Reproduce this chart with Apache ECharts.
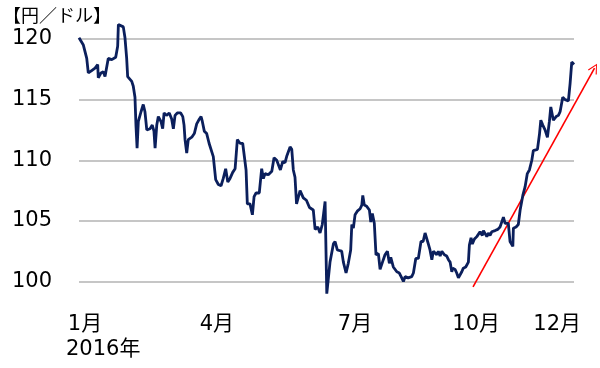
<!DOCTYPE html>
<html>
<head>
<meta charset="utf-8">
<script src="https://cdn.jsdelivr.net/npm/echarts@6/dist/echarts.min.js"></script>
<style>html,body{margin:0;padding:0;background:#fff}#c{width:600px;height:368px}</style>
</head>
<body>
<div id="c"></div>
<script>
// x: position along the year in day-of-year units, y: 円/ドル
const days = [4.0,7.1,9.5,10.6,13.0,15.4,17.3,17.7,19.6,21.3,22.5,24.8,27.3,30.1,31.5,32.0,33.2,35.5,36.7,37.9,38.6,39.8,41.5,42.6,43.8,44.5,45.3,46.2,48.1,49.7,50.9,52.2,54.5,56.1,57.3,58.1,59.3,60.4,62.3,63.5,64.5,66.2,68.2,69.9,71.1,72.3,73.9,76.3,77.8,78.7,79.4,80.6,81.7,84.2,86.0,87.7,89.6,90.8,91.7,93.1,94.8,96.5,97.9,99.5,101.2,103.1,105.0,106.6,108.3,109.8,111.4,113.3,115.0,116.6,118.5,120.4,121.6,122.8,123.7,125.6,127.3,128.5,129.9,132.2,133.9,135.1,136.3,138.6,141.1,142.7,144.6,147.2,148.9,150.5,151.9,154.1,155.3,156.4,157.6,158.7,161.2,163.5,165.7,167.9,170.6,171.9,173.8,175.4,177.0,178.3,179.0,180.2,182.5,184.9,186.1,187.7,190.8,192.0,193.9,195.5,197.2,198.0,199.1,200.3,201.9,203.9,205.1,205.8,206.9,208.6,210.5,211.5,212.6,214.0,215.2,216.9,218.1,219.3,220.4,221.6,223.3,224.7,225.7,227.5,230.0,231.8,233.5,234.7,235.9,238.0,239.4,240.6,241.8,243.5,245.3,247.2,248.7,250.1,251.3,252.4,253.6,254.9,256.0,257.2,258.4,259.5,260.8,262.0,263.8,265.5,266.7,267.9,269.1,269.8,271.4,272.6,273.8,275.0,276.2,277.3,279.0,280.9,281.6,282.8,283.7,285.2,286.9,288.0,289.2,290.8,291.6,292.8,294.0,295.1,296.3,297.5,299.9,301.8,303.4,304.6,305.8,307.0,309.3,310.5,312.5,312.9,314.8,316.4,317.7,319.6,321.2,322.8,324.3,326.0,327.1,330.0,331.4,332.4,333.8,335.4,337.1,338.5,339.5,341.3,343.3,344.9,346.1,348.0,349.7,352.0,353.2,354.4,356.0];
const rates = [120.1,119.5,118.4,117.2,117.4,117.6,117.9,116.8,117.2,117.3,116.9,118.4,118.3,118.5,119.4,121.2,121.2,121.0,120.1,118.4,116.9,116.8,116.5,116.1,115.2,112.9,111.0,113.2,114.0,114.6,114.0,112.5,112.6,112.9,112.4,111.0,112.9,113.6,113.2,112.6,113.9,113.7,113.9,113.4,112.6,113.7,113.9,113.9,113.6,112.9,111.7,110.6,111.7,111.9,112.2,113.0,113.4,113.6,113.2,112.4,112.2,111.4,111.3,110.3,108.4,108.0,107.9,108.5,109.3,108.2,108.5,109.0,109.3,111.7,111.4,111.4,111.5,109.2,106.4,106.4,105.5,107.0,107.3,107.3,109.3,108.5,108.9,108.8,109.1,110.2,110.0,109.2,109.9,109.8,110.4,111.1,110.9,109.2,108.6,106.4,107.5,106.9,106.7,106.1,105.9,104.3,104.5,104.0,104.7,104.8,106.6,99.0,101.6,103.1,103.3,102.6,102.5,101.6,100.7,101.5,102.6,104.7,104.4,105.5,105.8,106.0,106.3,107.1,106.3,106.2,105.9,104.9,105.6,104.8,102.2,102.3,101.0,101.1,101.8,102.2,102.5,101.5,102.0,101.2,100.8,100.7,100.3,100.0,100.4,100.3,100.2,100.4,100.7,101.9,101.9,103.3,103.3,104.0,103.9,103.1,102.6,101.8,102.5,102.5,102.2,102.5,102.1,102.5,102.2,102.1,101.8,101.6,100.8,101.1,101.0,100.7,100.3,100.4,100.8,101.1,101.2,101.6,103.0,103.6,103.1,103.5,103.7,103.6,104.1,103.8,104.2,104.1,103.7,104.0,103.8,104.1,104.2,104.3,104.5,104.9,105.3,104.8,104.8,103.3,102.9,104.4,104.5,104.7,105.9,107.1,107.8,108.9,109.2,110.0,110.8,110.9,112.1,113.3,112.9,112.5,111.9,113.2,114.4,113.3,113.6,113.7,114.0,115.2,115.0,114.9,116.3,118.1,117.9];

const xTickDays = [8.3, 102, 200.3, 286.4, 344];
const xTickLabels = ['1月', '4月', '7月', '10月', '12月'];
const yTicks = [100, 105, 110, 115, 120];
const yearLabel = '2016年';
const unitLabel = '【円／ドル】';
const arrowFrom = [284.2, 99.55];
const arrowTo = [370.6, 117.6];

const FONT = '"DejaVu Sans", "Noto Sans CJK JP", sans-serif';
const chart = echarts.init(document.getElementById('c'), null, {renderer: 'canvas'});
chart.setOption({
  animation: false,
  backgroundColor: '#ffffff',
  title: {
    text: unitLabel, left: 1, top: 4, padding: 2,
    textStyle: {fontFamily: '"Noto Sans CJK JP", sans-serif', fontSize: 18, fontWeight: 'normal', color: '#000'}
  },
  grid: {left: 79, right: 26, top: 14.75, bottom: 62.25, containLabel: false, outerBoundsMode: 'none'},
  xAxis: {
    type: 'value', min: 4, max: 356,
    axisLine: {show: false},
    axisTick: {show: false, customValues: xTickDays},
    splitLine: {show: false},
    axisLabel: {
      customValues: xTickDays,
      formatter: v => xTickLabels[xTickDays.indexOf(v)] || '',
      fontFamily: FONT, fontSize: 21, color: '#000', margin: 8
    }
  },
  yAxis: {
    type: 'value', min: 98, max: 122,
    axisLine: {show: false},
    axisTick: {show: false, customValues: yTicks},
    splitLine: {show: true, lineStyle: {color: '#b3b3b3', width: 1.5}},
    axisLabel: {customValues: yTicks, fontFamily: FONT, fontSize: 21, color: '#000', margin: 27}
  },
  graphic: [{
    type: 'text', left: 66, top: 339,
    style: {text: yearLabel, font: '21px ' + FONT, fill: '#000'}
  }],
  series: [{
    type: 'line',
    data: days.map((d, i) => [d, rates[i]]),
    showSymbol: false, symbol: 'none',
    lineStyle: {color: '#0b1f5c', width: 2.8},
    clip: false
  }, {
    type: 'lines', coordinateSystem: 'cartesian2d', clip: false,
    symbol: ['none', 'path://M0,0 L6,10 L4.8,10.6 L0,2 L-4.8,10.6 L-6,10 Z'],
    symbolSize: [10, 10],
    lineStyle: {color: '#ff0000', width: 1.6, opacity: 1},
    data: [{coords: [arrowFrom, arrowTo]}]
  }]
});
</script>
</body>
</html>
